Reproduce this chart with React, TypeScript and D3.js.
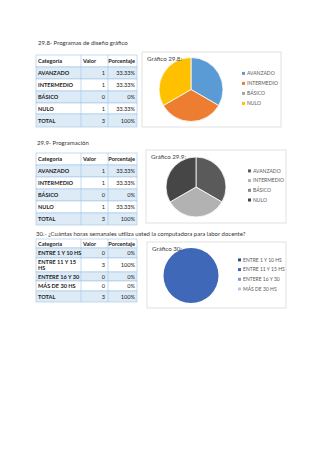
import React from "react";
import * as d3 from "d3";

// data
const levelCats = ["AVANZADO", "INTERMEDIO", "BÁSICO", "NULO"];
const disenoValues = [1, 1, 0, 1];
const disenoPct = ["33.33%", "33.33%", "0%", "33.33%"];
const progValues = [1, 1, 0, 1];
const progPct = ["33.33%", "33.33%", "0%", "33.33%"];
const horasCats = ["ENTRE 1 Y 10 HS", "ENTRE 11 Y 15 HS", "ENTERE 16 Y 30", "MÁS DE 30 HS"];
const horasValues = [0, 3, 0, 0];
const horasPct = ["0%", "100%", "0%", "0%"];
const totalValue = 3;
const totalPct = "100%";

const colorsDiseno = ["#5b9bd5", "#ed7d31", "#a5a5a5", "#ffc000"];
const colorsProg = ["#5a5a5a", "#b2b2b2", "#878787", "#464646"];
const colorsHoras = ["#2f528f", "#4068b8", "#7f9bd3", "#b4c7e7"];

const FONT = "Lato, 'Open Sans', sans-serif";
const cols = [36, 81, 108, 137];
const blue = "#ddebf7";
const border = "#9dc3e6";

function Table(props: {
  y: number;
  cats: string[];
  values: number[];
  pct: string[];
  heights: number[];
}) {
  const { y, cats, values, pct, heights } = props;
  const rows = [
    { c: ["Categoría"], v: "Valor", p: "Porcentaje", head: true },
    ...cats.map((c, i) => ({
      c: c === "ENTRE 11 Y 15 HS" ? ["ENTRE 11 Y 15", "HS"] : [c],
      v: String(values[i]),
      p: pct[i],
      head: false,
    })),
    { c: ["TOTAL"], v: String(totalValue), p: totalPct, head: false },
  ];
  let yy = y;
  return (
    <g fontFamily={FONT} fontSize={5.6} fill="#222">
      {rows.map((r, i) => {
        const h = heights[i];
        const top = yy;
        yy += h;
        const fill = i % 2 === 1 ? blue : "#fff";
        const lines = r.c.length;
        const base = top + h / 2 + 2 - (lines - 1) * 3.2;
        return (
          <g key={i}>
            <rect x={cols[0]} y={top} width={cols[3] - cols[0]} height={h} fill={fill} stroke={border} strokeWidth={0.6} />
            <line x1={cols[1]} x2={cols[1]} y1={top} y2={top + h} stroke={border} strokeWidth={0.6} />
            <line x1={cols[2]} x2={cols[2]} y1={top} y2={top + h} stroke={border} strokeWidth={0.6} />
            {r.c.map((t, k) => (
              <text key={k} x={cols[0] + 2} y={base + k * 6.4} fontWeight="bold">{t}</text>
            ))}
            {r.head ? (
              <>
                <text x={cols[1] + 2} y={base} fontWeight="bold">{r.v}</text>
                <text x={cols[3] - 2} y={base} fontWeight="bold" textAnchor="end">{r.p}</text>
              </>
            ) : (
              <>
                <text x={cols[2] - 3} y={top + h / 2 + 2} textAnchor="end">{r.v}</text>
                <text x={cols[3] - 2} y={top + h / 2 + 2} textAnchor="end">{r.p}</text>
              </>
            )}
          </g>
        );
      })}
    </g>
  );
}

function PieBox(props: {
  box: [number, number, number, number];
  title: string;
  cx: number;
  cy: number;
  r: number;
  cats: string[];
  values: number[];
  colors: string[];
  legX: number;
  legY: number;
  legStep: number;
}) {
  const { box, title, cx, cy, r, cats, values, colors, legX, legY, legStep } = props;
  const pie = d3.pie<number>().sort(null).value((d) => d);
  const arc = d3.arc<d3.PieArcDatum<number>>().innerRadius(0).outerRadius(r);
  const arcs = pie(values);
  const color = d3.scaleOrdinal<string, string>().domain(cats).range(colors);
  const nonZero = values.filter((v) => v > 0).length;
  return (
    <g fontFamily={FONT}>
      <rect x={box[0]} y={box[1]} width={box[2] - box[0]} height={box[3] - box[1]} fill="#fff" stroke="#d9d9d9" strokeWidth={0.8} />
      <g transform={`translate(${cx},${cy})`}>
        {arcs.map((a, i) =>
          a.value > 0 ? (
            <path key={i} d={arc(a) || ""} fill={color(cats[i])} stroke={nonZero > 1 ? "#fff" : "none"} strokeWidth={0.8} />
          ) : null
        )}
      </g>
      <text x={box[0] + 5} y={box[1] + 9} fontSize={6.2} fill="#404040">{title}</text>
      {cats.map((c, i) => (
        <g key={c}>
          <rect x={legX} y={legY + i * legStep - 2.6} width={3} height={3} fill={color(c)} />
          <text x={legX + 5} y={legY + i * legStep + 0.6} fontSize={5} fill="#595959">{c}</text>
        </g>
      ))}
    </g>
  );
}

export default function App() {
  return (
    <div style={{ position: "absolute", left: 0, top: 0 }}>
      <svg width={320} height={453} style={{ display: "block", background: "#fff" }}>
        <text x={38} y={45} fontFamily={FONT} fontSize={6} fill="#333">29.8- Programas de diseño gráfico</text>
        <Table y={55} cats={levelCats} values={disenoValues} pct={disenoPct} heights={[12, 12, 12, 12, 11, 13]} />
        <PieBox
          box={[142, 52, 281, 127]}
          title="Gráfico 29.8:"
          cx={191}
          cy={89.5}
          r={32}
          cats={levelCats}
          values={disenoValues}
          colors={colorsDiseno}
          legX={242}
          legY={74.5}
          legStep={10}
        />

        <text x={37} y={145} fontFamily={FONT} fontSize={6} fill="#333">29.9- Programación</text>
        <Table y={153} cats={levelCats} values={progValues} pct={progPct} heights={[12, 12, 12, 12, 12, 12]} />
        <PieBox
          box={[146, 150, 286, 223]}
          title="Gráfico 29.9:"
          cx={196}
          cy={187}
          r={30}
          cats={levelCats}
          values={progValues}
          colors={colorsProg}
          legX={248}
          legY={172}
          legStep={9.7}
        />

        <text x={36} y={236} fontFamily={FONT} fontSize={6} fill="#333">
          30.- ¿Cuántas horas semanales utiliza usted la computadora  para labor docente?
        </text>
        <Table y={239} cats={horasCats} values={horasValues} pct={horasPct} heights={[9, 10, 14, 9, 10, 11]} />
        <PieBox
          box={[147, 242, 286, 308]}
          title="Gráfico 30:"
          cx={191}
          cy={275.5}
          r={27.5}
          cats={horasCats}
          values={horasValues}
          colors={colorsHoras}
          legX={238}
          legY={261}
          legStep={9.7}
        />
      </svg>
    </div>
  );
}
